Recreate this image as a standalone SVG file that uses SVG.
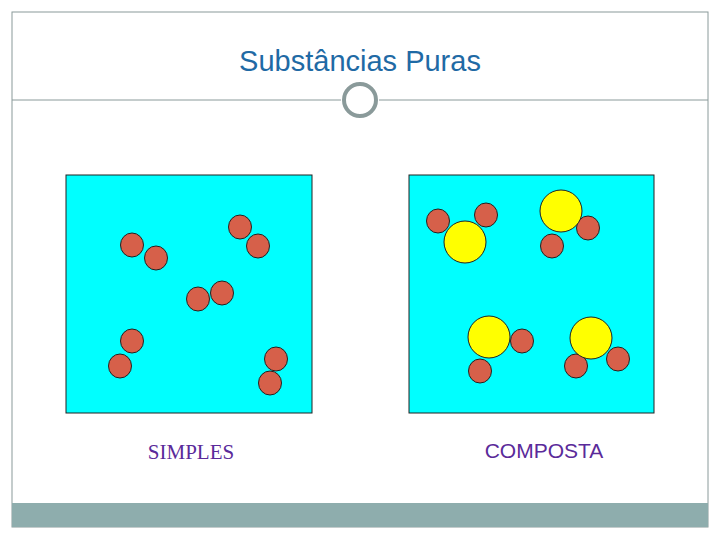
<svg xmlns="http://www.w3.org/2000/svg" width="720" height="540" viewBox="0 0 720 540">
<style>
.r{fill:#d6604a;stroke:#222;stroke-width:1}
.y{fill:#ffff00;stroke:#222;stroke-width:1}
.box{fill:#00ffff;stroke:#222;stroke-width:1}
</style>
<rect width="720" height="540" fill="#fff"/>
<rect x="12" y="12" width="696" height="515" fill="none" stroke="#8a9a9a" stroke-width="1"/>
<rect x="12" y="503" width="696" height="24" fill="#8eadad"/>
<line x1="12" y1="100" x2="341" y2="100" stroke="#8a9a9a"/>
<line x1="379" y1="100" x2="708" y2="100" stroke="#8a9a9a"/>
<circle cx="360" cy="100" r="16" fill="#fff" stroke="#8a9a9a" stroke-width="4"/>
<text x="360" y="71" text-anchor="middle" font-family="Liberation Sans, sans-serif" font-size="29" fill="#1f6aa5">Substâncias Puras</text>
<g id="simples">
<rect class="box" x="66" y="175" width="246" height="238"/>
<ellipse class="r" cx="132" cy="245" rx="11.5" ry="12"/>
<ellipse class="r" cx="156" cy="258" rx="11.5" ry="12"/>
<ellipse class="r" cx="240" cy="227" rx="11.5" ry="12"/>
<ellipse class="r" cx="258" cy="246" rx="11.5" ry="12"/>
<ellipse class="r" cx="198" cy="299" rx="11.5" ry="12"/>
<ellipse class="r" cx="222" cy="293" rx="11.5" ry="12"/>
<ellipse class="r" cx="132" cy="341" rx="11.5" ry="12"/>
<ellipse class="r" cx="120" cy="366" rx="11.5" ry="12"/>
<ellipse class="r" cx="276" cy="359" rx="11.5" ry="12"/>
<ellipse class="r" cx="270" cy="383" rx="11.5" ry="12"/>
<text x="191" y="459" text-anchor="middle" font-family="Liberation Serif, serif" font-size="21" fill="#5a2a9a">SIMPLES</text>
</g>
<g id="composta">
<rect class="box" x="409" y="175" width="245" height="238"/>
<ellipse class="r" cx="438" cy="221" rx="11.5" ry="12"/>
<ellipse class="r" cx="486" cy="215" rx="11.5" ry="12"/>
<ellipse class="y" cx="465" cy="242" rx="21" ry="21"/>
<ellipse class="r" cx="588" cy="228" rx="11.5" ry="12"/>
<ellipse class="r" cx="552" cy="246" rx="11.5" ry="12"/>
<ellipse class="y" cx="561" cy="211" rx="21" ry="21"/>
<ellipse class="y" cx="489" cy="337" rx="21" ry="21"/>
<ellipse class="r" cx="522" cy="341" rx="11.5" ry="12"/>
<ellipse class="r" cx="480" cy="371" rx="11.5" ry="12"/>
<ellipse class="r" cx="576" cy="366" rx="11.5" ry="12"/>
<ellipse class="y" cx="591" cy="338" rx="21" ry="21"/>
<ellipse class="r" cx="618" cy="359" rx="11.5" ry="12"/>
<text x="544" y="458" text-anchor="middle" font-family="Liberation Sans, sans-serif" font-size="21" fill="#5a2a9a">COMPOSTA</text>
</g>
</svg>
